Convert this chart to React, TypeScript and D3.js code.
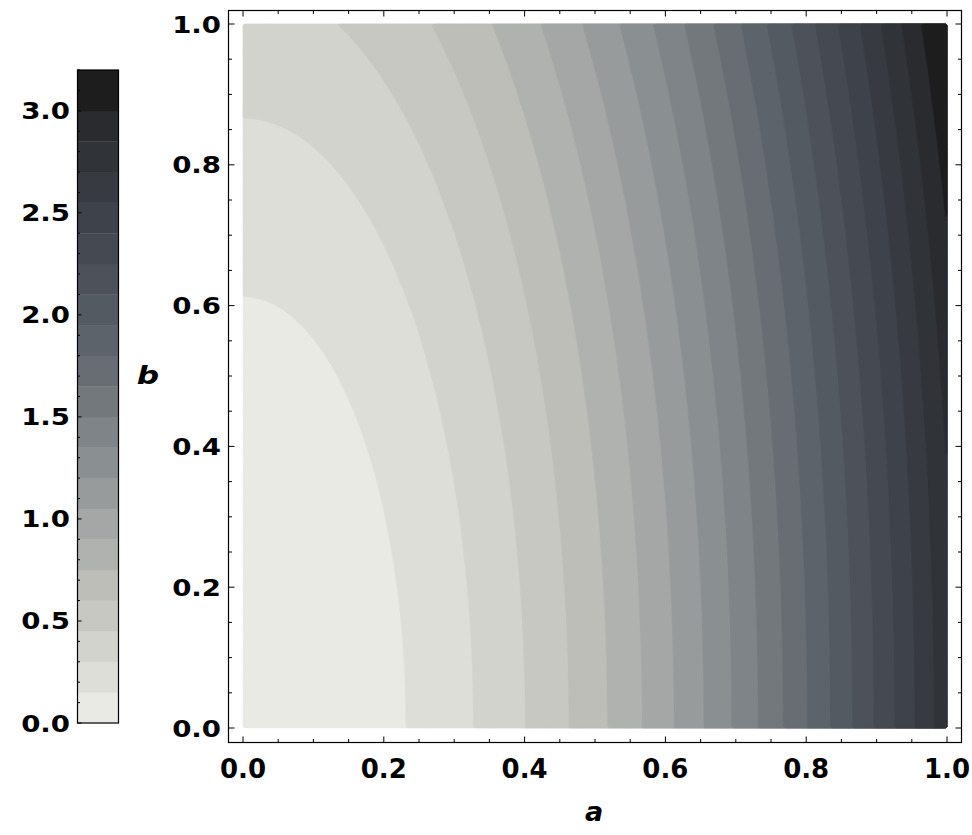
import React from "react";
import * as d3 from "d3";

// Contour levels (lower bound of each filled band)
const LEVELS = [0, 0.15, 0.3, 0.45, 0.6, 0.75, 0.9, 1.05, 1.2, 1.35, 1.5, 1.65, 1.8, 1.95, 2.1, 2.25, 2.4, 2.55, 2.7, 2.85, 3.0];
const BAND_COLORS = [
  "#e9eae3", "#dddeD7", "#d2d3cd", "#c7c8c2", "#bdbeb8", "#b0b2af", "#a4a7a6",
  "#979b9b", "#8a9091", "#7e8487", "#72787c", "#676d72", "#5d636a", "#545a62",
  "#4c515a", "#454a52", "#3e424a", "#373b41", "#303338", "#292b2f", "#1d1d1e",
];
const VALUE_MAX = 3.2;
const A_COEF = 2.8;
const B_COEF = 0.4;

const X_TICKS = [0, 0.2, 0.4, 0.6, 0.8, 1.0];
const X_TICK_LABELS = ["0.0", "0.2", "0.4", "0.6", "0.8", "1.0"];
const Y_TICKS = [0, 0.2, 0.4, 0.6, 0.8, 1.0];
const Y_TICK_LABELS = ["0.0", "0.2", "0.4", "0.6", "0.8", "1.0"];
const CB_TICKS = [0, 0.5, 1.0, 1.5, 2.0, 2.5, 3.0];
const CB_TICK_LABELS = ["0.0", "0.5", "1.0", "1.5", "2.0", "2.5", "3.0"];
const X_LABEL = "a";
const Y_LABEL = "b";

const FONT = "'DejaVu Sans', sans-serif";

export default function App() {
  const W = 972;
  const H = 835;
  const x = d3.scaleLinear().domain([0, 1]).range([243, 947]);
  const y = d3.scaleLinear().domain([0, 1]).range([728, 24]);
  const frame = { x0: 228.5, y0: 10.5, x1: 961.5, y1: 742.5 };

  const n = 260;
  const m = 260;
  const values: number[] = new Array(n * m);
  for (let j = 0; j < m; j++) {
    const b = (j + 0.5) / m;
    for (let i = 0; i < n; i++) {
      const a = (i + 0.5) / n;
      values[j * n + i] = A_COEF * a * a + B_COEF * b * b;
    }
  }
  const contours = d3.contours().size([n, m]).thresholds(LEVELS)(values);
  const path = d3.geoPath(
    d3.geoTransform({
      point(px: number, py: number) {
        (this as any).stream.point(x(px / n), y(py / m));
      },
    })
  );

  const cb = d3.scaleLinear().domain([0, VALUE_MAX]).range([723, 70]);
  const cbX0 = 77.5;
  const cbX1 = 118.5;

  const minorMain = d3.range(0, 1.0001, 0.05);
  const minorCb = d3.range(0, 3.2001, 0.1);

  const isMajor = (v: number, step: number) => Math.abs(v / step - Math.round(v / step)) < 1e-6;

  return (
    <svg width={W} height={H} style={{ position: "absolute", left: 0, top: 0, background: "#fff" }}>
      {/* filled contour bands */}
      <g>
        {contours.map((c, i) => (
          <path key={i} d={path(c as any) || ""} fill={BAND_COLORS[i]} stroke={BAND_COLORS[i]} strokeWidth={0.4} />
        ))}
      </g>

      {/* frame */}
      <rect x={frame.x0} y={frame.y0} width={frame.x1 - frame.x0} height={frame.y1 - frame.y0} fill="none" stroke="#000" strokeWidth={1.2} />

      {/* main ticks */}
      <g stroke="#000" strokeWidth={1}>
        {minorMain.map((v, i) => {
          const len = isMajor(v, 0.2) ? 6 : 3.5;
          const px = x(v);
          const py = y(v);
          return (
            <g key={i}>
              <line x1={px} x2={px} y1={frame.y1} y2={frame.y1 - len} />
              <line x1={px} x2={px} y1={frame.y0} y2={frame.y0 + len} />
              <line x1={frame.x0} x2={frame.x0 + len} y1={py} y2={py} />
              <line x1={frame.x1} x2={frame.x1 - len} y1={py} y2={py} />
            </g>
          );
        })}
      </g>

      {/* bottom tick labels */}
      <g fontFamily={FONT} fontWeight="bold" fontSize={26} textAnchor="middle" fill="#000">
        {X_TICKS.map((v, i) => (
          <text key={i} x={x(v)} y={778}>
            {X_TICK_LABELS[i]}
          </text>
        ))}
      </g>
      {/* left tick labels */}
      <g fontFamily={FONT} fontWeight="bold" fontSize={23} textAnchor="end" fill="#000">
        {Y_TICKS.map((v, i) => (
          <text key={i} transform={`translate(221,${y(v) + 8.5}) scale(1.2,1)`}>
            {Y_TICK_LABELS[i]}
          </text>
        ))}
      </g>

      {/* axis labels */}
      <text x={594} y={821} fontFamily={FONT} fontWeight="bold" fontStyle="italic" fontSize={27} textAnchor="middle">
        {X_LABEL}
      </text>
      <text transform={`translate(148,384) scale(1.25,1)`} fontFamily={FONT} fontWeight="bold" fontStyle="italic" fontSize={25} textAnchor="middle">
        {Y_LABEL}
      </text>

      {/* colorbar */}
      <g>
        {LEVELS.map((lv, i) => {
          const top = i < LEVELS.length - 1 ? LEVELS[i + 1] : VALUE_MAX;
          return (
            <rect key={i} x={cbX0} y={cb(top)} width={cbX1 - cbX0} height={cb(lv) - cb(top) + 0.3} fill={BAND_COLORS[i]} />
          );
        })}
        <rect x={cbX0} y={70} width={cbX1 - cbX0} height={653} fill="none" stroke="#000" strokeWidth={1.2} />
        <g stroke="#000" strokeWidth={1}>
          {minorCb.map((v, i) => {
            const len = isMajor(v, 0.5) ? 4 : 2.5;
            return <line key={i} x1={cbX0} x2={cbX0 + len} y1={cb(v)} y2={cb(v)} />;
          })}
        </g>
        <g fontFamily={FONT} fontWeight="bold" fontSize={23} textAnchor="end" fill="#000">
          {CB_TICKS.map((v, i) => (
            <text key={i} transform={`translate(70,${cb(v) + 8.5}) scale(1.2,1)`}>
              {CB_TICK_LABELS[i]}
            </text>
          ))}
        </g>
      </g>
    </svg>
  );
}
